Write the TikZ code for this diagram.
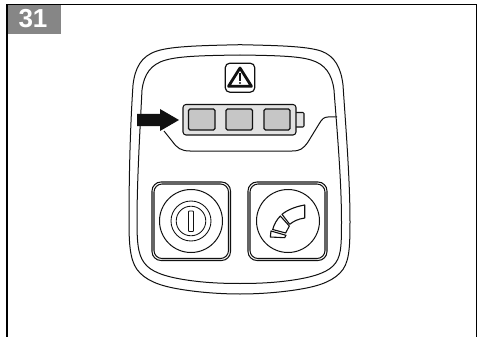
\documentclass[tikz,border=0pt]{standalone}
\usepackage{fontspec}
\setmainfont{Liberation Sans}
\definecolor{tabgray}{HTML}{868686}
\definecolor{cellgray}{HTML}{C6C6C6}
\definecolor{battgray}{HTML}{E2E2E2}
\definecolor{ink}{HTML}{111111}
\tikzset{
  thinline/.style={draw=ink,line width=1pt},
  ringline/.style={draw=ink,line width=0.85pt},
  cellbox/.style={draw=ink,line width=1.1pt,fill=cellgray,rounded corners=1.5pt},
  keybox/.style={draw=ink,line width=1.05pt,rounded corners=9pt},
  keyboxin/.style={draw=ink,line width=1.05pt,rounded corners=8pt},
}
\begin{document}
\begin{tikzpicture}[x=1pt,y=-1pt]
\useasboundingbox (0,0) rectangle (477,337);
\fill[white] (0,0) rectangle (477,337);
% frame
\draw[black,line width=1.2pt] (7,337) -- (7,4.5) -- (476.5,4.5) -- (476.5,337);
\fill[tabgray] (7.5,5) rectangle (61,34.5);
\node[text=white,font=\bfseries\fontsize{26}{26}\selectfont,inner sep=0pt,anchor=center] (tab) at (33,19) {31};
% body outer
\draw[thinline] (240,44.7) .. controls (205,45.5) and (172,46) .. (157,51)
  .. controls (141,56) and (135,68) .. (133,85)
  .. controls (130,130) and (129,180) .. (129,222)
  .. controls (129,250) and (131,264) .. (140,273)
  .. controls (150,283) and (165,287) .. (185,290)
  .. controls (205,293) and (225,294) .. (240,294)
  .. controls (255,294) and (275,293) .. (295,290)
  .. controls (315,287) and (330,283) .. (340,273)
  .. controls (349,264) and (350,250) .. (350,222)
  .. controls (350,180) and (346,130) .. (343,85)
  .. controls (341,68) and (335,56) .. (321,51)
  .. controls (306,46) and (275,45.5) .. (240,44.7);
% body inner
\draw[thinline] (240,55) .. controls (205,55.5) and (180,56) .. (166,60)
  .. controls (151,64) and (144,74) .. (142,90)
  .. controls (140,130) and (137,180) .. (137,222)
  .. controls (137,248) and (139,258) .. (147,266)
  .. controls (155,274) and (172,278) .. (190,280.5)
  .. controls (208,283) and (225,283.5) .. (240,283.5)
  .. controls (255,283.5) and (272,283) .. (290,280.5)
  .. controls (308,278) and (325,274) .. (333,266)
  .. controls (341,258) and (341.5,248) .. (341.5,222)
  .. controls (341.5,180) and (337,130) .. (334,90)
  .. controls (332,74) and (325,64) .. (311,60)
  .. controls (298,56) and (275,55.5) .. (240,55);
% panel curve
\coordinate (pa) at (164,131);
\coordinate (pb) at (337,117);
\draw[thinline] (pa) -- (172,141) .. controls (177,148) and (181,151) .. (190,151)
  -- (292,151) .. controls (300,151) and (303,149) .. (308,142)
  -- (319,124) .. controls (322,119) and (324,117) .. (328,117) -- (pb);
% warning icon
\node[draw=ink,line width=1.2pt,rounded corners=4.5pt,minimum width=29.5pt,minimum height=29pt,inner sep=0pt] (warn) at (240,77.7) {};
\draw[ink,line width=2.8pt,line join=round] (240,68) -- (228.5,86.3) -- (251.5,86.3) -- cycle;
\draw[ink,line width=1.9pt] (240,73) -- (240,80.8);
\fill[ink] (240,83) circle (1.2);
% battery
\path[draw=ink,line width=1.05pt,fill=battgray,rounded corners=1pt] (295,112.5) -- (304,112.5) -- (304,127) -- (295,127) -- cycle;
\path[draw=ink,line width=1.05pt,fill=battgray,rounded corners=3pt] (183,104.5) rectangle (296,135);
\path[cellbox] (188.5,109) rectangle (215,130);
\path[cellbox] (226,109) rectangle (252.5,130);
\path[cellbox] (264,109) rectangle (290,130);
% arrow
\fill[ink] (137,114) -- (160,114) -- (160,109) -- (179,120) -- (160,131) -- (160,126) -- (137,126) -- cycle;
% left key
\path[keybox] (152,182) rectangle (230.5,260.5);
\path[keyboxin] (154,184) rectangle (228.5,258.5);
\draw[thinline] (191,221) circle (31.5);
\draw[ringline] (191,221) circle (20);
\draw[ringline] (191,221) circle (14.8);
\draw[ringline,rounded corners=0.8pt] (188.5,211) rectangle (193.5,231.5);
% right key
\path[keybox] (248,182) rectangle (327,260.5);
\path[keyboxin] (250,184) rectangle (325,258.5);
\draw[thinline] (288,221) circle (31.5);
\draw[ink,line width=1.1pt,line join=round] (304.7,205) -- (304.7,218) .. controls (298,219) and (294,221) .. (289.7,224.3)
  -- (282,214.3) .. controls (288,209.5) and (296,206.5) .. (304.7,205) -- cycle;
\draw[ink,line width=1.1pt,line join=round] (280.3,216) -- (289.3,226) -- (285.7,233) -- (272.7,229.5)
  .. controls (274,224.5) and (276.5,220) .. (280.3,216) -- cycle;
\draw[ink,line width=1.1pt,line join=round] (271,231) -- (286,235.3) -- (284.7,237.7) -- (270.3,237) -- cycle;
\end{tikzpicture}
\end{document}
